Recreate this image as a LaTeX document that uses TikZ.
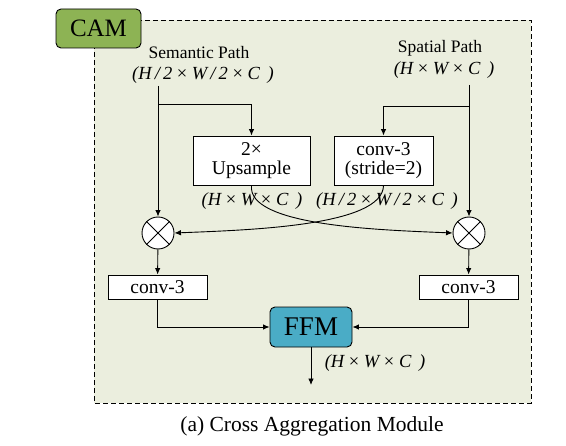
\documentclass[tikz,border=0pt]{standalone}
\usepackage{fontspec}
\setmainfont{Liberation Serif}
\usetikzlibrary{arrows.meta,calc}
\definecolor{bgc}{RGB}{235,238,222}
\definecolor{camg}{RGB}{141,179,84}
\definecolor{ffmb}{RGB}{74,172,198}
\tikzset{
  box/.style={draw, line width=0.9bp, fill=white, align=center, inner sep=0pt, font=\fontsize{19.5bp}{20bp}\selectfont},
  arr/.style={line width=0.9bp, -{Latex[length=6.5bp,width=5.5bp]}},
  ln/.style={line width=0.9bp},
  lbl/.style={font=\fontsize{17.5bp}{18bp}\selectfont, align=center, inner sep=0pt},
  dim/.style={font=\fontsize{18.5bp}{19bp}\selectfont\itshape, inner sep=0pt},
  mul/.style={draw, circle, line width=0.9bp, fill=white, minimum size=32bp, inner sep=0pt},
}
\newcommand{\xx}{{\upshape ×}}
\begin{document}
\begin{tikzpicture}[x=1bp,y=-1bp]
\useasboundingbox (0,0) rectangle (566,446);
% module frame
\draw[line width=0.9bp, fill=bgc, dash pattern=on 5bp off 3bp] (94,20) rectangle (531,403);
\node[draw, line width=0.9bp, fill=camg, rounded corners=5bp, minimum width=85bp, minimum height=39bp, inner sep=0pt, font=\fontsize{25bp}{26bp}\selectfont] (cam) at (98.5,28.5) {CAM};
% inputs
\node[lbl] (sem) at (199,53) {Semantic Path};
\node[dim] (semd) at (203,75) {(H\,/\,2 \xx{} W\,/\,2 \xx{} C\, )};
\node[lbl] (spa) at (440,48) {Spatial Path};
\node[dim] (spad) at (444,70) {(H \xx{} W \xx{} C\, )};
\coordinate (semtop) at (158,86);
\coordinate (spatop) at (469,85);
% boxes
\node[box, minimum width=117bp, minimum height=49bp] (up) at (251.5,160.5) {2\xx\\[-1bp]Upsample};
\node[box, minimum width=99bp, minimum height=49bp] (cs) at (383.5,160.5) {conv-3\\[-1bp](stride=2)};
\node[dim] (upd) at (252,201) {(H \xx{} W \xx{} C\, )};
\node[dim] (csd) at (387,201) {(H\,/\,2 \xx{} W\,/\,2 \xx{} C\, )};
\node[mul] (m1) at (158,233) {};
\node[mul] (m2) at (469,233) {};
\foreach \m in {m1,m2}{
  \draw[ln] (\m.north west) -- (\m.south east);
  \draw[ln] (\m.north east) -- (\m.south west);
}
\node[box, minimum width=99bp, minimum height=24bp] (c1) at (157.5,287) {conv-3};
\node[box, minimum width=99bp, minimum height=24bp] (c2) at (468.5,287) {conv-3};
\node[draw, line width=0.9bp, fill=ffmb, rounded corners=5bp, minimum width=82bp, minimum height=40bp, inner sep=0pt, font=\fontsize{27bp}{28bp}\selectfont] (ffm) at (311,327) {FFM};
\coordinate (out) at (311,385);
\node[dim] (outd) at (375,363) {(H \xx{} W \xx{} C\, )};
% connectors
\draw[arr] (semtop) -- (m1);
\draw[arr] (158,104) -| (up.north);
\draw[arr] (spatop) -- (m2);
\draw[arr] (469,106) -| (cs.north);
\draw[arr] (up.south) .. controls (247,226) and (380,230) .. (m2.west);
\draw[arr] (cs.south) .. controls (383,226) and (250,230) .. (m1.east);
\draw[arr] (m1) -- (c1);
\draw[arr] (m2) -- (c2);
\draw[arr] (c1.south) |- (ffm.west);
\draw[arr] (c2.south) |- (ffm.east);
\draw[arr] (ffm.south) -- (out);
% caption
\node[font=\fontsize{21.5bp}{22bp}\selectfont, inner sep=0pt] (cap) at (312,426) {(a) Cross Aggregation Module};
\end{tikzpicture}
\end{document}
